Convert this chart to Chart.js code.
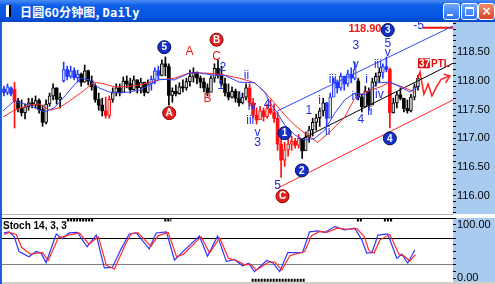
<!DOCTYPE html>
<html>
<head>
<meta charset="utf-8">
<title>日圆60分钟图</title>
<script src="https://cdn.jsdelivr.net/npm/chart.js@4.4.1/dist/chart.umd.min.js"></script>
<style>
  html, body { margin: 0; padding: 0; }
  body { width: 495px; height: 284px; position: relative; overflow: hidden; background: #fff; }
  #titleBar { position: absolute; left: 0; top: 0; width: 495px; height: 22px;
    background: linear-gradient(to bottom, #4a8cf6 0%, #0d5ee8 25%, #0654e2 75%, #0747c4 100%); }
  #titleIcon { position: absolute; left: 6px; top: 5px; width: 3px; height: 12px; background: #fff; border-right: 2px solid #000; }
  #titleText { position: absolute; left: 20px; top: 3px; color: #fff; font: bold 12px "Noto Sans CJK SC", sans-serif; letter-spacing: 0.2px; }
  #titleText span { font-family: "DejaVu Sans Mono", monospace; }
  .winBtn { position: absolute; top: 3px; width: 15px; height: 15px; border: 1px solid #fff; border-radius: 3px;
    background: linear-gradient(#6ea8ff, #2d6ff0); }
  #btnMin { left: 443px; }
  #btnMin::after { content: ""; position: absolute; left: 3px; top: 10px; width: 6px; height: 2px; background: #fff; }
  #btnMax { left: 461px; }
  #btnMax::after { content: ""; position: absolute; left: 3px; top: 3px; width: 7px; height: 6px; border: 1px solid #fff; border-top-width: 2px; }
  #btnClose { left: 478px; background: linear-gradient(#f08a6a, #d8462a); color: #fff; font: bold 12px "DejaVu Sans", sans-serif; text-align: center; line-height: 15px; }
  #frameL { position: absolute; left: 0; top: 22px; width: 2px; height: 262px; background: #1c5fd9; }
  #sep { position: absolute; left: 2px; top: 214px; width: 451px; height: 1px; background: #b8b8b8; }
  #mainWrap { position: absolute; left: 0; top: 22px; }
  #stochWrap { position: absolute; left: 0; top: 218px; }
  #bottomEdge { position: absolute; left: 2px; top: 282px; width: 493px; height: 2px; background: #d4d0c8; }
</style>
</head>
<body>
<div id="titleBar">
  <div id="titleIcon"></div>
  <div id="titleText">日圆60分钟图, <span>Daily</span></div>
  <div class="winBtn" id="btnMin"></div>
  <div class="winBtn" id="btnMax"></div>
  <div class="winBtn" id="btnClose">×</div>
</div>
<div id="mainWrap"><canvas id="mainChart" width="495" height="192"></canvas></div>
<div id="sep"></div>
<div id="stochWrap"><canvas id="stochChart" width="495" height="64"></canvas></div>
<div id="frameL"></div>
<div id="bottomEdge"></div>

<script>
// ── 1. DATA ──────────────────────────────────────────────────
// hourly bars, index 0..118
const opens = [
  117.86, 117.80, 117.88, 117.85, 117.65, 117.52, 117.45, 117.55, 117.62, 117.58,
  117.66, 117.50, 117.28, 117.60, 117.74, 117.88, 117.68, 118.00, 118.20, 118.08,
  118.18, 118.06, 118.12, 117.98, 118.18, 118.00, 117.90, 117.68, 117.58, 117.48,
  117.40, 117.68, 117.80, 117.88, 117.80, 118.00, 117.95, 117.85, 118.02, 117.88,
  117.98, 117.80, 117.95, 118.03, 118.18, 118.10, 118.30, 118.25, 117.75, 117.82,
  117.78, 117.90, 117.88, 117.99, 118.08, 118.15, 118.05, 117.98, 117.88, 117.80,
  118.05, 118.22, 118.10, 117.95, 117.80, 117.72, 117.82, 117.70, 117.62, 117.72,
  117.88, 117.62, 117.40, 117.32, 117.48, 117.38, 117.52, 117.45, 117.35, 116.90,
  116.62, 116.80, 116.90, 116.95, 116.88, 117.00, 116.78, 117.02, 117.15, 117.28,
  117.36, 117.48, 117.62, 117.35, 117.72, 117.98, 117.88, 118.08, 117.95, 118.12,
  118.05, 118.00, 117.72, 117.55, 117.82, 117.58, 117.98, 118.08, 118.15, 118.25,
  118.20, 117.45, 117.62, 117.76, 117.70, 117.52, 117.48, 117.72, 117.90
];
const closes = [
  117.80, 117.90, 117.78, 117.65, 117.52, 117.45, 117.55, 117.62, 117.58, 117.66,
  117.50, 117.28, 117.60, 117.74, 117.88, 117.68, 117.72, 118.20, 118.08, 118.18,
  118.06, 118.12, 117.98, 118.18, 118.00, 117.90, 117.68, 117.58, 117.48, 117.40,
  117.68, 117.80, 117.88, 117.80, 118.00, 117.95, 117.85, 118.02, 117.88, 117.98,
  117.80, 117.95, 118.03, 118.18, 118.10, 118.30, 118.25, 117.75, 117.82, 117.78,
  117.90, 117.88, 117.99, 118.08, 118.15, 118.05, 117.98, 117.88, 117.80, 118.05,
  118.22, 118.10, 117.95, 117.80, 117.72, 117.82, 117.70, 117.62, 117.72, 117.88,
  117.62, 117.40, 117.32, 117.48, 117.38, 117.52, 117.45, 117.35, 116.90, 116.62,
  116.80, 116.90, 116.95, 116.88, 117.00, 116.78, 117.02, 117.15, 117.28, 117.36,
  117.48, 117.62, 117.35, 117.72, 117.98, 117.88, 118.08, 117.95, 118.12, 118.05,
  118.20, 117.72, 117.55, 117.82, 117.58, 117.98, 118.08, 118.15, 118.25, 118.20,
  117.45, 117.62, 117.76, 117.70, 117.52, 117.48, 117.72, 117.90, 118.05
];
const highs = [
  117.91, 117.95, 117.90, 117.98, 117.70, 117.67, 117.60, 117.70, 117.70, 117.74,
  117.69, 117.58, 117.67, 117.79, 117.95, 117.88, 117.79, 118.33, 118.26, 118.26,
  118.23, 118.19, 118.14, 118.28, 118.19, 118.09, 117.95, 117.79, 117.70, 117.72,
  117.74, 117.88, 117.95, 117.95, 118.07, 118.09, 118.05, 118.09, 118.02, 118.05,
  117.97, 118.02, 118.09, 118.23, 118.26, 118.37, 118.42, 118.30, 117.88, 117.93,
  117.97, 118.02, 118.05, 118.19, 118.23, 118.16, 118.09, 118.05, 117.95, 118.09,
  118.30, 118.37, 118.26, 118.05, 117.95, 117.90, 117.86, 117.81, 117.79, 117.95,
  117.95, 117.70, 117.53, 117.56, 117.53, 117.60, 117.67, 117.60, 117.46, 117.00,
  116.93, 117.00, 117.04, 117.00, 117.07, 117.00, 117.11, 117.21, 117.35, 117.42,
  117.53, 117.70, 117.63, 117.79, 118.05, 118.02, 118.14, 118.09, 118.19, 118.23,
  118.33, 118.05, 117.77, 117.91, 117.88, 118.05, 118.14, 118.23, 118.30, 118.42,
  118.23, 117.70, 117.81, 117.88, 117.70, 117.67, 117.77, 117.95, 118.10
];
const lows = [
  117.74, 117.76, 117.74, 117.18, 117.46, 117.39, 117.34, 117.49, 117.53, 117.53,
  117.44, 117.21, 117.25, 117.56, 117.67, 117.60, 117.53, 117.98, 118.02, 118.05,
  118.02, 117.98, 117.91, 117.98, 117.93, 117.84, 117.63, 117.49, 117.39, 117.35,
  117.35, 117.63, 117.74, 117.74, 117.84, 117.88, 117.79, 117.84, 117.79, 117.79,
  117.74, 117.79, 117.84, 117.95, 118.02, 118.09, 118.09, 117.58, 117.63, 117.74,
  117.77, 117.81, 117.84, 117.91, 117.98, 117.95, 117.88, 117.81, 117.74, 117.81,
  117.98, 118.05, 117.91, 117.74, 117.67, 117.70, 117.63, 117.56, 117.60, 117.67,
  117.56, 117.35, 117.25, 117.35, 117.30, 117.35, 117.42, 117.28, 116.79, 116.32,
  116.51, 116.69, 116.79, 116.83, 116.83, 116.65, 116.79, 116.93, 117.04, 117.14,
  117.21, 117.39, 117.21, 117.46, 117.74, 117.79, 117.84, 117.84, 117.91, 117.97,
  118.02, 117.67, 117.46, 117.63, 117.49, 117.74, 117.91, 117.98, 118.05, 118.16,
  117.18, 117.44, 117.53, 117.67, 117.46, 117.44, 117.46, 117.67, 117.84
];
// bar colouring by wave: k = black, b = blue, r = red
const barTone = "bbbr" + "kkkkkkkkkkkkk" + "bbbbb" + "kkkkkkk" + "rr" + "kkkkkkkkkkk" + "bbb" +
  "kkkkkkkkkkkkkkkkkkkkkkkkk" + "rrrrrrrrrrrrrrr" + "kkkkkkk" + "bbbbbbbbb" + "kkkkkkk" + "bbr" + "kkkkkkkk";

// moving averages, [bar index, price]
const maFast = [
  [-0.3, 117.48], [2.9, 117.65], [7.1, 117.58], [11.4, 117.46], [14.3, 117.53], [17.1, 117.72],
  [20, 117.93], [22, 118.05], [24.3, 118.02], [27.1, 117.88], [30, 117.81], [32.9, 117.79],
  [35.7, 117.81], [38.6, 117.84], [41.4, 117.93], [44.3, 118.03], [48.6, 118.02], [52.9, 118.14],
  [55.7, 118.14], [60, 118.10], [62.9, 118.10], [67.1, 117.98], [71.4, 117.97], [74.3, 117.81],
  [75.7, 117.63], [78, 117.44], [80, 117.23], [82.9, 117.06], [85.7, 116.97], [88.6, 117.00],
  [91.4, 117.14], [94.3, 117.44], [97.1, 117.67], [100, 117.79], [102.9, 117.76], [106.6, 117.97],
  [110, 117.98], [112.9, 117.90], [115.7, 117.81], [118, 117.90]
];
const maSlow = [
  [-0.3, 117.37], [2.9, 117.49], [7.1, 117.58], [10, 117.60], [12.9, 117.49], [15.7, 117.53],
  [18.6, 117.65], [22.9, 117.84], [25.7, 117.98], [28.6, 117.95], [31.4, 117.90], [34.3, 117.90],
  [38.6, 117.93], [44.3, 118.02], [48.6, 118.05], [52.9, 118.14], [57.1, 118.14], [61.4, 118.12],
  [67.1, 118.05], [71.4, 117.97], [74.3, 117.81], [77.1, 117.62], [80, 117.41], [82.9, 117.23],
  [85.7, 117.09], [89.4, 116.93], [92.9, 117.11], [97.1, 117.37], [100, 117.70], [102.9, 117.81],
  [107.4, 117.90], [110, 117.98], [114.3, 117.88], [117.1, 117.81]
];

// trend channel and projection, [bar index, price]
const channelTop = [[78, 117.48], [128, 118.96]];
const channelMid = [[84.3, 116.97], [128, 118.31]];
const channelLow = [[78, 116.13], [128, 117.67]];
const targetLine = [[119.4, 118.93], [128, 118.93]];
const projection = [[117.7, 118.02], [118.6, 118.16], [119.7, 117.77], [120.9, 117.95], [122, 117.74],
  [123.4, 117.91], [124.6, 118.03], [127.1, 118.09]];
const projArrow = [[125.3, 118.12], [127.1, 118.09], [125.9, 117.97]];

// wave labels, [text, bar index, price, colour]
const circleLabels = [
  ["5", 45.7, 118.59, "b"], ["B", 60.6, 118.72, "r"], ["A", 47.1, 117.44, "r"], ["C", 79.4, 115.99, "r"],
  ["1", 80, 117.09, "b"], ["2", 84.9, 116.44, "b"], ["3", 109.4, 118.89, "b"], ["4", 110, 117.0, "b"]
];
const textLabels = [
  ["A", 52.9, 118.51, "r"], ["B", 58, 117.70, "r"], ["C", 60.6, 118.42, "r"],
  ["2", 62.4, 118.24, "b"], ["1", 61.8, 117.92, "b"], ["ii", 69.1, 118.10, "b"], ["i", 67.2, 117.72, "b"],
  ["iv", 70.7, 117.55, "b"], ["iii", 70.2, 117.30, "b"], ["4", 75, 117.58, "b"], ["v", 72.3, 117.10, "b"],
  ["3", 72.3, 116.92, "b"], ["5", 78, 116.18, "b"], ["1", 86.9, 117.49, "b"], ["i", 90, 117.65, "b"],
  ["ii", 92.3, 117.12, "b"], ["iii", 93.7, 118.02, "b"], ["v", 100.3, 118.28, "b"], ["3", 100.3, 118.62, "b"],
  ["iv", 100.3, 117.72, "b"], ["4", 101.7, 117.32, "b"], ["i", 103.4, 118.02, "b"], ["ii", 104.3, 117.46, "b"],
  ["iii", 106.6, 118.28, "b"], ["iv", 107, 117.76, "b"], ["v", 109.4, 118.49, "b"], ["5", 109.4, 118.66, "b"],
  ["118.90", 102.9, 118.91, "r"], ["-5", 118.2, 118.96, "b"]
];

// stochastic 14,3,3 : [bar index, value]
const stochK = [
  [0, 85], [1.4, 87], [2.9, 78], [4.3, 50], [7.1, 40], [9.1, 50], [10.6, 47], [12, 29], [14.9, 83],
  [16.6, 74], [18.6, 85], [20.9, 86], [23.7, 59], [26.3, 81], [28.6, 19], [30.9, 20], [33.4, 55],
  [35.7, 83], [37.7, 85], [41.4, 55], [43.4, 85], [46.3, 87], [48.6, 34], [50.6, 47], [55.7, 79],
  [58, 41], [60.9, 79], [63.4, 31], [65.7, 35], [68, 23], [69.7, 28], [71.4, 12], [74.9, 33],
  [76.6, 29], [78.6, 12], [80.9, 48], [85.1, 48], [87.1, 87], [89.4, 89], [91.4, 86], [94.3, 97],
  [97.1, 91], [100, 94], [102, 72], [103.4, 47], [104.9, 48], [106.6, 81], [109.4, 83], [112, 37],
  [113.4, 45], [115.1, 28], [117.1, 53]
];
const stochD = [
  [0, 82], [1.4, 86], [3.5, 82], [5, 58], [7.5, 45], [9.5, 47], [11, 48], [12.6, 33], [15.5, 76],
  [17, 78], [19, 82], [21.5, 85], [24.2, 64], [26.9, 78], [29.2, 24], [31.5, 17], [34.5, 62],
  [36.3, 84], [38.2, 85], [41.9, 60], [44, 80], [46.8, 86], [49.2, 40], [51.2, 45], [56.2, 78],
  [58.6, 47], [61.5, 76], [64, 37], [66.3, 33], [68.6, 25], [70.3, 26], [72, 15], [75.5, 30],
  [77.2, 30], [79.2, 15], [81.5, 42], [85.7, 50], [87.7, 80], [90, 88], [92, 86], [95, 94],
  [97.7, 92], [100.6, 93], [102.7, 78], [104, 52], [105.5, 47], [107.2, 72], [110, 82], [112.6, 45],
  [114, 42], [115.7, 32], [117.3, 44]
];
const stochLevels = [75, 25];
const stochTopMarks = [[18, 25.7], [45.7, 47.7], [100.6, 102], [108.3, 110.9]];
const stochBottomMarks = [[70.6, 85.7]];

// ── 2. HELPERS ────────────────────────────────────────────────
const X_MIN = -0.57, X_MAX = 128;
const TONES = { k: "#000000", b: "#2038ff", r: "#ff1010" };
const LABEL_COL = { b: "#1f2fe6", r: "#f01818" };
const pts = (arr) => arr.map(([x, y]) => ({ x, y }));

const lineSet = (data, color, width, extra) => Object.assign({
  type: "line", data: pts(data), borderColor: color, borderWidth: width,
  pointRadius: 0, tension: 0, fill: false, order: 0
}, extra || {});

// background: white plot, light-blue axis strip
const panelBackground = {
  id: "panelBackground",
  beforeDraw(chart) {
    const { ctx, chartArea, width, height } = chart;
    ctx.save();
    ctx.fillStyle = "#ffffff";
    ctx.fillRect(0, 0, width, height);
    ctx.fillStyle = "#a9cbef";
    ctx.fillRect(chartArea.right, 0, width - chartArea.right, height);
    ctx.restore();
  }
};

// ── 3. MAIN PRICE CHART ───────────────────────────────────────
function candleDatasets() {
  const up = closes.map((c, i) => c > opens[i]);
  const col = barTone.split("").map((t) => TONES[t] || "#000");
  return [
    {
      type: "bar", order: 1, grouped: false, barThickness: 3, borderSkipped: false,
      data: opens.map((o, i) => ({ x: i, y: [o, closes[i]] })),
      backgroundColor: col.map((c, i) => (up[i] ? "#d8d8d8" : c)),
      borderColor: col, borderWidth: up.map((u) => (u ? 1 : 0))
    },
    {
      type: "bar", order: 2, grouped: false, barThickness: 1, borderSkipped: false,
      data: highs.map((h, i) => ({ x: i, y: [lows[i], h] })),
      backgroundColor: col
    }
  ];
}

const waveMarks = {
  id: "waveMarks",
  afterDatasetsDraw(chart) {
    const { ctx, scales: { x, y } } = chart;
    ctx.save();
    ctx.textAlign = "center";
    ctx.textBaseline = "middle";
    textLabels.forEach(([t, xi, p, c]) => {
      ctx.fillStyle = LABEL_COL[c];
      ctx.font = (t.length > 3 ? "bold 11px" : "12px") + ' "Liberation Sans", Arial, sans-serif';
      ctx.fillText(t, x.getPixelForValue(xi), y.getPixelForValue(p));
    });
    circleLabels.forEach(([t, xi, p, c]) => {
      const px = x.getPixelForValue(xi), py = y.getPixelForValue(p);
      ctx.beginPath();
      ctx.arc(px, py, 6.5, 0, Math.PI * 2);
      ctx.fillStyle = c === "r" ? "#e5201c" : "#1530c8";
      ctx.fill();
      ctx.lineWidth = 1;
      ctx.strokeStyle = c === "r" ? "#8a0000" : "#001060";
      ctx.stroke();
      ctx.fillStyle = "#fff";
      ctx.font = 'bold 10px "Liberation Sans", Arial, sans-serif';
      ctx.fillText(t, px, py + 0.5);
    });
    // "37PTL" tag near the projection
    const tx = x.getPixelForValue(118.3), ty = y.getPixelForValue(118.31);
    ctx.fillStyle = "#e01010";
    ctx.fillRect(tx - 1, ty - 5, 12, 10);
    ctx.font = 'bold 10px "Liberation Sans", Arial, sans-serif';
    ctx.textAlign = "left";
    ctx.fillStyle = "#fff";
    ctx.fillText("37", tx, ty + 0.5);
    ctx.fillStyle = "#e01010";
    ctx.fillText("PTL", tx + 12, ty + 0.5);
    ctx.restore();
  }
};

new Chart(document.getElementById("mainChart"), {
  type: "bar",
  data: {
    datasets: [
      ...candleDatasets(),
      lineSet(maFast, "#3344ff", 1),
      lineSet(maSlow, "#ff2a2a", 1),
      lineSet(channelTop, "#2f48ff", 1),
      lineSet(channelMid, "#000000", 1),
      lineSet(channelLow, "#ff2020", 1),
      lineSet(targetLine, "#ff1010", 2),
      lineSet(projection, "#ff2020", 1.5),
      lineSet(projArrow, "#ff2020", 1.5)
    ]
  },
  options: {
    animation: false,
    responsive: false,
    layout: { padding: { left: 2, right: 0, top: 0, bottom: 0 } },
    plugins: { legend: { display: false }, tooltip: { enabled: false } },
    scales: {
      x: { type: "linear", min: X_MIN, max: X_MAX, display: false, offset: false },
      y: {
        position: "right", min: 115.68, max: 119.03,
        afterFit: (s) => { s.width = 42; s.paddingTop = 0; s.paddingBottom = 0; },
        ticks: {
          stepSize: 0.1, autoSkip: false, includeBounds: false, padding: 1, color: "#000",
          font: { family: "Liberation Sans", size: 11 },
          callback: (v) => {
            const c = Math.round(v * 100);
            return c % 50 === 0 && v > 115.9 && v < 118.6 ? (c / 100).toFixed(2) : "";
          }
        },
        grid: { drawOnChartArea: false, drawTicks: true, tickLength: 3, tickColor: "#000" },
        border: { display: false }
      }
    }
  },
  plugins: [panelBackground, waveMarks]
});

// ── 4. STOCHASTIC PANEL ───────────────────────────────────────
const stochCaption = {
  id: "stochCaption",
  afterDraw(chart) {
    const { ctx, chartArea } = chart;
    ctx.save();
    ctx.strokeStyle = "#000";
    ctx.lineWidth = 1;
    ctx.beginPath();
    ctx.moveTo(chartArea.left, chartArea.top + 0.5);
    ctx.lineTo(chartArea.right, chartArea.top + 0.5);
    ctx.stroke();
    ctx.fillStyle = "#000";
    ctx.font = 'bold 10px "Liberation Sans", Arial, sans-serif';
    ctx.textBaseline = "top";
    ctx.fillText("Stoch 14, 3, 3", chartArea.left + 1, chartArea.top + 3);
    ctx.restore();
  }
};

const markSets = [
  ...stochTopMarks.map(([a, b]) => lineSet([[a, 109.5], [b, 109.5]], "#000", 3, { borderDash: [2, 1] })),
  ...stochBottomMarks.map(([a, b]) => lineSet([[a, -4], [b, -4]], "#000", 3, { borderDash: [2, 1] }))
];

new Chart(document.getElementById("stochChart"), {
  type: "line",
  data: {
    datasets: [
      lineSet(stochD, "#ff2a2a", 1.2),
      lineSet(stochK, "#2a36ff", 1.2),
      ...markSets
    ]
  },
  options: {
    animation: false,
    responsive: false,
    layout: { padding: { left: 2, right: 0, top: 0, bottom: 0 } },
    plugins: { legend: { display: false }, tooltip: { enabled: false } },
    scales: {
      x: { type: "linear", min: X_MIN, max: X_MAX, display: false, offset: false },
      y: {
        position: "right", min: -7.5, max: 113.2,
        afterFit: (s) => { s.width = 42; s.paddingTop = 0; s.paddingBottom = 0; },
        ticks: {
          stepSize: 12.5, autoSkip: false, includeBounds: false, padding: 1, color: "#000",
          font: { family: "Liberation Sans", size: 11 },
          callback: (v) => (v === 0 || v === 100 ? v.toFixed(2) : "")
        },
        grid: {
          drawTicks: true, tickLength: 3, tickColor: "#000",
          color: (c) => (c.tick && c.tick.value === stochLevels[0] ? "#000"
            : c.tick && c.tick.value === stochLevels[1] ? "#808080" : "rgba(0,0,0,0)")
        },
        border: { display: false }
      }
    }
  },
  plugins: [panelBackground, stochCaption]
});
</script>
</body>
</html>
